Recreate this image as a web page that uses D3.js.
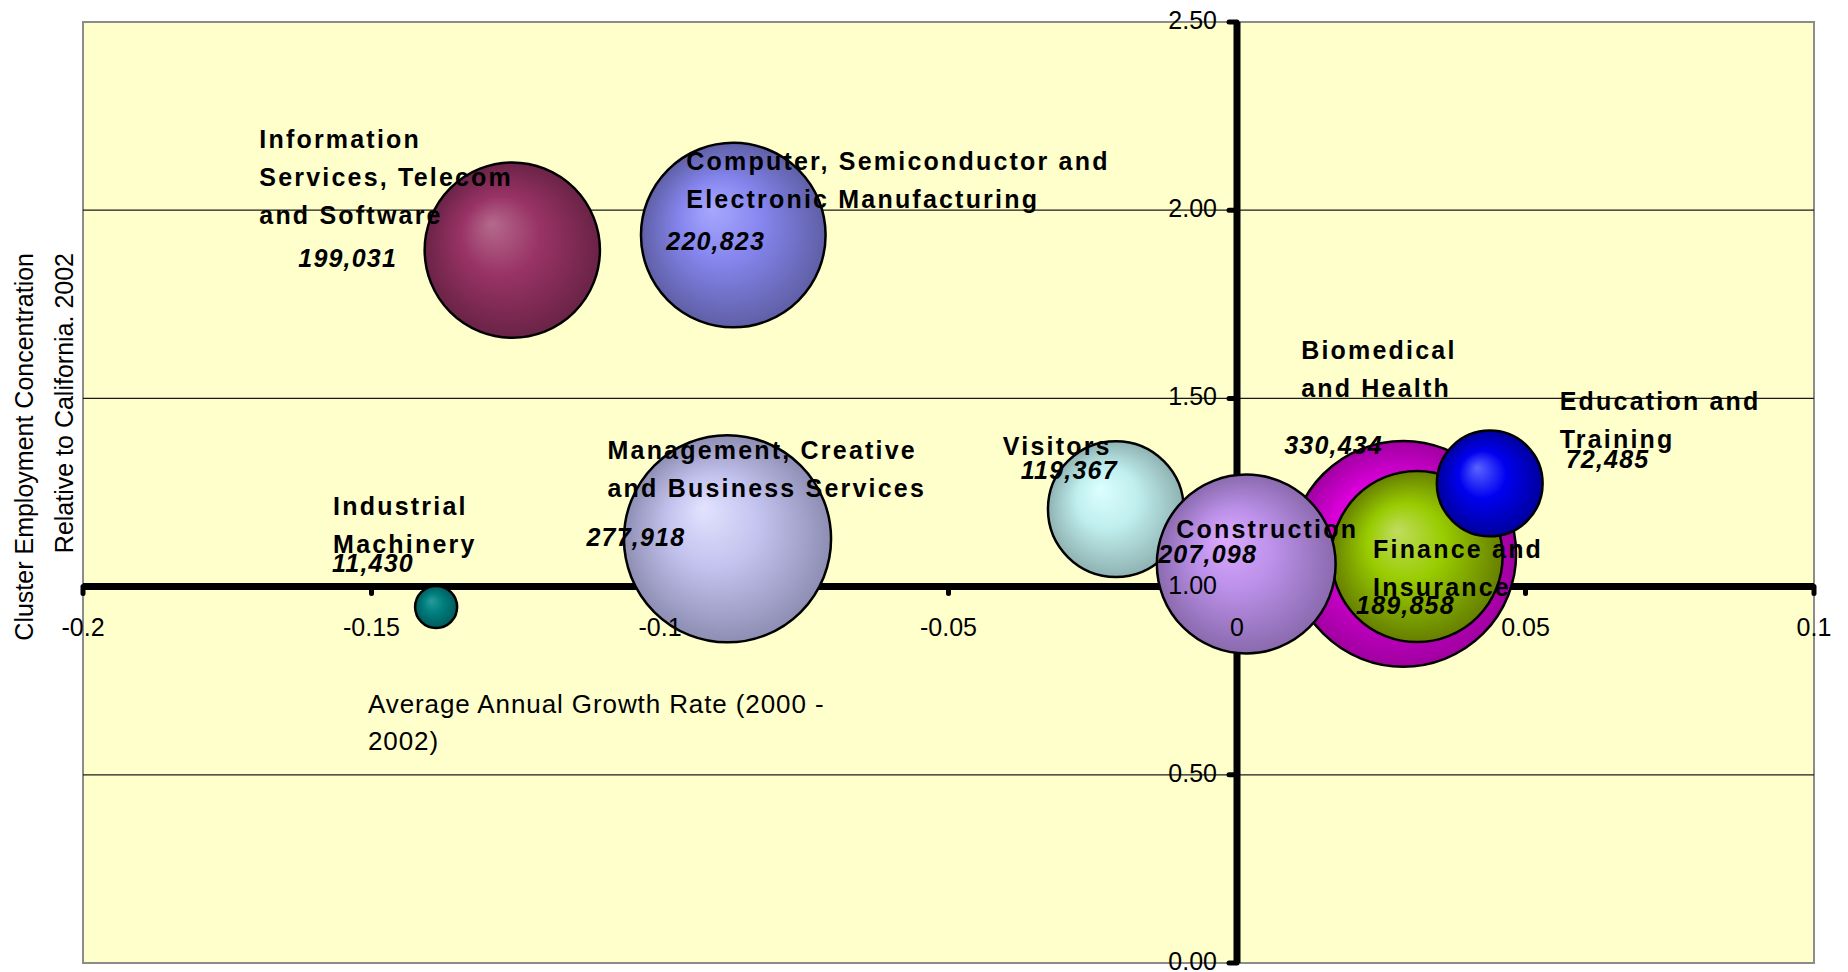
<!DOCTYPE html>
<html>
<head>
<meta charset="utf-8">
<script src="https://cdn.jsdelivr.net/npm/d3@7"></script>
<style>
  html, body { margin: 0; padding: 0; background: #fff; }
  svg { display: block; font-family: "Liberation Sans", Arial, sans-serif; }
</style>
</head>
<body>
<svg id="chart" width="1848" height="972"></svg>
<script>
// cluster data (drawing order)
var categories = [
  "Industrial\nMachinery",
  "Information\nServices, Telecom\nand Software",
  "Computer, Semiconductor and\nElectronic Manufacturing",
  "Management, Creative\nand Business Services",
  "Visitors",
  "Biomedical\nand Health",
  "Finance and\nInsurance",
  "Education and\nTraining",
  "Construction"
];
var growthRate = [-0.1388, -0.1256, -0.0873, -0.0883, -0.0210, 0.0288, 0.0312, 0.0438, 0.0016];
var concentration = [0.946, 1.894, 1.934, 1.127, 1.206, 1.087, 1.080, 1.274, 1.060];
var employment = [11430, 199031, 220823, 277918, 119367, 330434, 189858, 72485, 207098];

var xTickValues = [-0.2, -0.15, -0.1, -0.05, 0, 0.05, 0.1];
var xTickLabels = ["-0.2", "-0.15", "-0.1", "-0.05", "0", "0.05", "0.1"];
var yTickValues = [0, 0.5, 1, 1.5, 2, 2.5];
var yTickLabels = ["0.00", "0.50", "1.00", "1.50", "2.00", "2.50"];

// bubble shading: [highlight, mid, edge]
var shades = [
  ["#2a9a9a", "#008080", "#005a5a"],
  ["#b46a8c", "#993366", "#6a2346"],
  ["#a8a8ff", "#8585ee", "#5f5fa6"],
  ["#e2e2ff", "#c2c2ee", "#8e8eb4"],
  ["#dcffff", "#c0eeee", "#8fb2b2"],
  ["#ff3cff", "#e000e0", "#a000a0"],
  ["#c0dc60", "#99cc00", "#667f00"],
  ["#5a64ff", "#0000f0", "#00009c"],
  ["#dcaaff", "#bb90e8", "#8a6aae"]
];

// label offsets from bubble centre (px): name x, first baseline y, value x, value baseline y
var labelPos = [
  [-103, -92, -104, -35],
  [-253, -102, -214, 17],
  [-47, -65, -67, 15],
  [-120, -80, -141, 7],
  [-113, -54, -95, -30],
  [-102, -195, -119, -100],
  [-44, 2, -61, 58],
  [70, -73, 76, -15],
  [-70, -26, -88, -1]
];

var svg = d3.select("#chart");
var pl = 83, pt = 22, pr = 1814, pb = 963;
var lineH = 38;

var x = d3.scaleLinear().domain([-0.2, 0.1]).range([pl, pr]);
var y = d3.scaleLinear().domain([0, 2.5]).range([pb, pt]);
var r = d3.scaleSqrt().domain([0, d3.max(employment)]).range([0, (pb - pt) * 0.12]);

var fmt = d3.format(",");

// plot area
svg.append("rect")
  .attr("x", pl).attr("y", pt)
  .attr("width", pr - pl).attr("height", pb - pt)
  .attr("fill", "#ffffcc")
  .attr("stroke", "#8c8c8c")
  .attr("stroke-width", 2);

// gridlines
svg.append("g")
  .selectAll("line")
  .data(yTickValues.filter(function(d) { return d > 0 && d < 2.5; }))
  .enter().append("line")
  .attr("x1", pl).attr("x2", pr)
  .attr("y1", function(d) { return y(d); })
  .attr("y2", function(d) { return y(d); })
  .attr("stroke", "#1a1a1a")
  .attr("stroke-width", 1.3);

// axis lines + ticks
var axisG = svg.append("g");
axisG.append("line")
  .attr("x1", x(-0.2)).attr("x2", x(0.1))
  .attr("y1", y(1)).attr("y2", y(1))
  .attr("stroke", "#000").attr("stroke-width", 7);
axisG.append("line")
  .attr("x1", x(0)).attr("x2", x(0))
  .attr("y1", y(0)).attr("y2", y(2.5))
  .attr("stroke", "#000").attr("stroke-width", 7);

axisG.selectAll(".xt")
  .data(xTickValues.filter(function(d) { return d !== 0; }))
  .enter().append("line")
  .attr("class", "xt")
  .attr("x1", function(d) { return x(d); })
  .attr("x2", function(d) { return x(d); })
  .attr("y1", y(1)).attr("y2", y(1) + 7)
  .attr("stroke", "#000").attr("stroke-width", 5)
  .attr("stroke-linecap", "round");

axisG.selectAll(".yt")
  .data(yTickValues)
  .enter().append("line")
  .attr("class", "yt")
  .attr("x1", x(0)).attr("x2", x(0) - 8)
  .attr("y1", function(d) { return y(d); })
  .attr("y2", function(d) { return y(d); })
  .attr("stroke", "#000").attr("stroke-width", 5)
  .attr("stroke-linecap", "round");

// gradients
var defs = svg.append("defs");
shades.forEach(function(s, i) {
  var g = defs.append("radialGradient")
    .attr("id", "grad-" + i)
    .attr("cx", "0.5").attr("cy", "0.5").attr("r", "0.5")
    .attr("fx", "0.38").attr("fy", "0.35");
  g.append("stop").attr("offset", "0%").attr("stop-color", s[0]);
  g.append("stop").attr("offset", "45%").attr("stop-color", s[1]);
  g.append("stop").attr("offset", "100%").attr("stop-color", s[2]);
});

// bubbles
var data = categories.map(function(c, i) {
  return { name: c, x: growthRate[i], y: concentration[i], v: employment[i], i: i };
});

svg.append("g")
  .selectAll("circle")
  .data(data)
  .enter().append("circle")
  .attr("cx", function(d) { return x(d.x); })
  .attr("cy", function(d) { return y(d.y); })
  .attr("r", function(d) { return r(d.v); })
  .attr("fill", function(d) { return "url(#grad-" + d.i + ")"; })
  .attr("stroke", "#000")
  .attr("stroke-width", 2.5);

// tick labels
svg.append("g")
  .selectAll("text")
  .data(xTickValues)
  .enter().append("text")
  .attr("x", function(d) { return x(d); })
  .attr("y", y(1) + 49)
  .attr("text-anchor", "middle")
  .attr("font-size", 25)
  .attr("fill", "#000")
  .text(function(d, i) { return xTickLabels[i]; });

svg.append("g")
  .selectAll("text")
  .data(yTickValues)
  .enter().append("text")
  .attr("x", x(0) - 20)
  .attr("y", function(d) { return y(d) + 7; })
  .attr("text-anchor", "end")
  .attr("font-size", 25)
  .attr("fill", "#000")
  .text(function(d, i) { return yTickLabels[i]; });

// axis titles
var xt = svg.append("text")
  .attr("x", 368).attr("y", 713)
  .attr("font-size", 26)
  .attr("letter-spacing", 0.9)
  .attr("fill", "#000");
xt.append("tspan").attr("x", 368).text("Average Annual Growth Rate (2000 -");
xt.append("tspan").attr("x", 368).attr("dy", 37).text("2002)");

var yt = svg.append("text")
  .attr("transform", "translate(33,253) rotate(-90)")
  .attr("text-anchor", "end")
  .attr("font-size", 25)
  .attr("fill", "#000");
yt.append("tspan").attr("x", 0).attr("y", 0).text("Cluster Employment Concentration");
yt.append("tspan").attr("x", 0).attr("y", 40).text("Relative to California. 2002");

// data labels
var lab = svg.append("g")
  .selectAll("g")
  .data(data)
  .enter().append("g")
  .attr("transform", function(d) { return "translate(" + x(d.x) + "," + y(d.y) + ")"; });

lab.append("text")
  .attr("font-size", 25)
  .attr("font-weight", "bold")
  .attr("letter-spacing", 2.2)
  .attr("fill", "#000")
  .each(function(d) {
    var p = labelPos[d.i];
    var t = d3.select(this);
    d.name.split("\n").forEach(function(line, k) {
      t.append("tspan")
        .attr("x", p[0])
        .attr("y", p[1] + k * lineH)
        .text(line);
    });
  });

lab.append("text")
  .attr("x", function(d) { return labelPos[d.i][2]; })
  .attr("y", function(d) { return labelPos[d.i][3]; })
  .attr("font-size", 25)
  .attr("font-weight", "bold")
  .attr("font-style", "italic")
  .attr("letter-spacing", 1.2)
  .attr("fill", "#000")
  .text(function(d) { return fmt(d.v); });
</script>
</body>
</html>
